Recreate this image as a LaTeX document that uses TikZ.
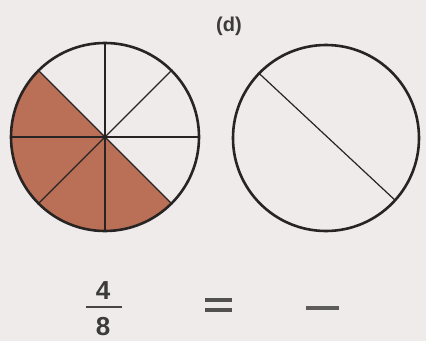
\documentclass[tikz,border=0pt]{standalone}
\usepackage{fontspec}
\setmainfont{Liberation Sans}
\definecolor{bg}{RGB}{238,235,234}
\definecolor{sectorfill}{RGB}{186,112,86}
\definecolor{ink}{RGB}{40,36,36}
\tikzset{
  rim/.style={draw=ink, line width=2.6pt},
  spoke/.style={draw=ink, line width=1.2pt},
  bar/.style={draw=ink!80, line width=3.4pt},
  lbl/.style={text=ink!90, inner sep=0pt},
}
\begin{document}
\begin{tikzpicture}[x=1pt,y=-1pt]
\fill[bg] (0,0) rectangle (426,341);
\useasboundingbox (0,0) rectangle (426,341);
% left circle
\coordinate (c1) at (105,137);
\fill[sectorfill] (c1) -- ([shift={(135:94pt)}]c1) arc[start angle=135, end angle=315, radius=94pt] -- cycle;
\foreach \a in {0,45,...,315} \draw[spoke] (c1) -- ([shift={(\a:94pt)}]c1);
\draw[rim] (c1) circle[radius=94pt];
% right circle
\coordinate (c2) at (326,138);
\coordinate (p1) at ([shift={(136:93pt)}]c2);
\coordinate (p2) at ([shift={(-42:93pt)}]c2);
\draw[spoke] (p1) -- (p2);
\draw[rim] (c2) circle[radius=93pt];
% labels
\node[lbl, font=\bfseries\fontsize{20}{22}\selectfont] (d) at (229,26) {(d)};
\node[lbl, font=\bfseries\fontsize{26}{28}\selectfont] (n4) at (103,291) {4};
\node[lbl, font=\bfseries\fontsize{26}{28}\selectfont] (n8) at (103,327) {8};
\coordinate (fl) at (86,307); \coordinate (fr) at (122,307);
\draw[ink!85, line width=1.6pt] (fl) -- (fr);
\coordinate (e1) at (205,300); \coordinate (e2) at (232,300);
\coordinate (e3) at (205,310); \coordinate (e4) at (232,310);
\draw[bar] (e1) -- (e2); \draw[bar] (e3) -- (e4);
\coordinate (b1) at (306,308); \coordinate (b2) at (339,308);
\draw[ink!75, line width=3.4pt] (b1) -- (b2);
\end{tikzpicture}
\end{document}
